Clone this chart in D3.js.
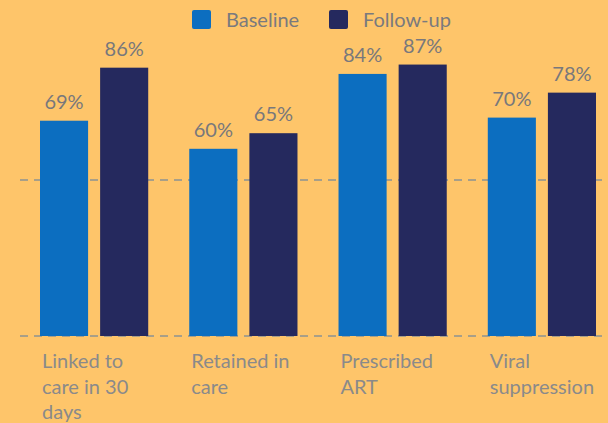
<!DOCTYPE html>
<html>
<head>
<meta charset="utf-8">
<script src="https://cdn.jsdelivr.net/npm/d3@7"></script>
<style>
  html, body { margin: 0; padding: 0; background: #FEC56A; }
  svg { display: block; font-family: Lato, "Open Sans", sans-serif; }
</style>
</head>
<body>
<svg id="chart" width="608" height="423"></svg>
<script>
// chart data
var categories = ["Linked to care in 30 days", "Retained in care", "Prescribed ART", "Viral suppression"];
var seriesNames = ["Baseline", "Follow-up"];
var baseline = [69, 60, 84, 70];
var followUp = [86, 65, 87, 78];
var gridTicks = [0, 50];

var colors = {"Baseline": "#0C6EC0", "Follow-up": "#25295E"};

var svg = d3.select("#chart");
var width = 608, height = 423;

var x = d3.scaleBand()
    .domain(categories)
    .range([20, 616])
    .paddingInner(0.275)
    .paddingOuter(0.134);

var xInner = d3.scaleBand()
    .domain(seriesNames)
    .range([0, x.bandwidth()])
    .paddingInner(0.2);

var y = d3.scaleLinear()
    .domain([0, 100])
    .range([336, 24]);

// dashed grid lines
svg.append("g").attr("class", "grid")
    .selectAll("line")
    .data(gridTicks)
    .enter()
    .append("line")
    .attr("x1", 20)
    .attr("x2", width)
    .attr("y1", d => y(d))
    .attr("y2", d => y(d))
    .attr("stroke", "#A89F88")
    .attr("stroke-width", 2)
    .attr("stroke-dasharray", "8,6");

var rows = categories.map((c, i) => ({
    category: c,
    values: [{series: "Baseline", value: baseline[i]},
             {series: "Follow-up", value: followUp[i]}]
}));

var groups = svg.append("g").attr("class", "bars")
    .selectAll("g")
    .data(rows)
    .enter()
    .append("g")
    .attr("transform", d => "translate(" + x(d.category) + ",0)");

groups.selectAll("rect")
    .data(d => d.values)
    .enter()
    .append("rect")
    .attr("x", d => xInner(d.series))
    .attr("y", d => y(d.value))
    .attr("width", xInner.bandwidth())
    .attr("height", d => y(0) - y(d.value))
    .attr("fill", d => colors[d.series]);

groups.selectAll("text.value")
    .data(d => d.values)
    .enter()
    .append("text")
    .attr("class", "value")
    .attr("x", d => xInner(d.series) + xInner.bandwidth() / 2)
    .attr("y", d => y(d.value) - 12)
    .attr("text-anchor", "middle")
    .attr("font-size", 20)
    .attr("fill", "#78787C")
    .text(d => d.value + "%");

// category labels, wrapped to the group width
var xAxis = svg.append("g").attr("class", "x-axis");
categories.forEach(function (c) {
    var t = xAxis.append("text")
        .attr("x", x(c) + 2)
        .attr("y", 368)
        .attr("font-size", 20)
        .attr("fill", "#8A8A8A");
    var words = c.split(" "), line = [], lineNo = 0;
    var tspan = t.append("tspan").attr("x", x(c) + 2).attr("dy", 0);
    words.forEach(function (w) {
        line.push(w);
        tspan.text(line.join(" "));
        if (tspan.node().getComputedTextLength() > 110 && line.length > 1) {
            line.pop();
            tspan.text(line.join(" "));
            line = [w];
            lineNo++;
            tspan = t.append("tspan").attr("x", x(c) + 2).attr("dy", 25.5).text(w);
        }
    });
});

// legend
var legendPos = [192, 329];
var legend = svg.append("g").attr("class", "legend")
    .selectAll("g")
    .data(seriesNames)
    .enter()
    .append("g")
    .attr("transform", (d, i) => "translate(" + legendPos[i] + ",10)");

legend.append("rect")
    .attr("width", 19)
    .attr("height", 19)
    .attr("rx", 2)
    .attr("fill", d => colors[d]);

legend.append("text")
    .attr("x", 34)
    .attr("y", 17)
    .attr("font-size", 20)
    .attr("fill", "#7A7A7E")
    .text(d => d);
</script>
</body>
</html>
